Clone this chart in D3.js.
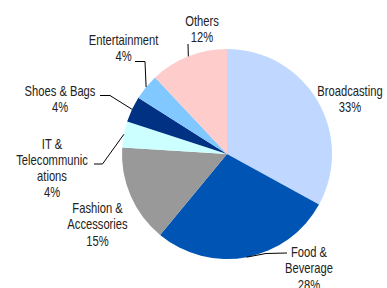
<!DOCTYPE html>
<html><head><meta charset="utf-8">
<script src="https://cdn.jsdelivr.net/npm/d3@7"></script>
<style>html,body{margin:0;padding:0;background:#fff;}svg{display:block;}</style>
</head><body>
<svg id="chart" width="387" height="288"></svg>
<script>
const categories = ["Broadcasting", "Food & Beverage", "Fashion & Accessories", "IT & Telecommunications", "Shoes & Bags", "Entertainment", "Others"];
const values = [33, 28, 15, 4, 4, 4, 12];
const labelLines = [
  ["Broadcasting", "33%"],
  ["Food &", "Beverage", "28%"],
  ["Fashion &", "Accessories", "15%"],
  ["IT &", "Telecommunic", "ations", "4%"],
  ["Shoes & Bags", "4%"],
  ["Entertainment", "4%"],
  ["Others", "12%"]
];
const colors = ["#C0D8FF", "#0055B4", "#999999", "#CCFFFF", "#003183", "#80C8FF", "#FFCCCC"];

// layout (positions only)
const cx = 227, cy = 154, R = 105, lineH = 16.3, squeeze = 0.8;
const labelPos = [
  {x: 350, y: 96},
  {x: 309, y: 257},
  {x: 97.5, y: 213},
  {x: 52, y: 148.5},
  {x: 60, y: 96},
  {x: 123.5, y: 45},
  {x: 202, y: 26}
];
// leader bends (null = no leader)
const leaderBends = [
  null,
  [[266, 253.5], [287, 253]],
  null,
  [[102.5, 164], [94, 164]],
  [[110, 95.5], [100, 95.5]],
  [[145, 61.5], [135, 61.5]],
  [[188, 44]]
];

const svg = d3.select("#chart");
const g = svg.append("g").attr("transform", `translate(${cx},${cy})`);
const pie = d3.pie().sort(null).value(d => d)(values);
const arc = d3.arc().innerRadius(0).outerRadius(R);

g.selectAll("path.slice").data(pie).enter().append("path")
  .attr("class", "slice")
  .attr("d", arc)
  .attr("fill", (d, i) => colors[i]);

pie.forEach((d, i) => {
  if (!leaderBends[i]) return;
  const mid = (d.startAngle + d.endAngle) / 2;
  const p0 = [cx + R * Math.sin(mid), cy - R * Math.cos(mid)];
  const pts = [p0].concat(leaderBends[i]);
  svg.append("path")
    .attr("d", d3.line()(pts))
    .attr("fill", "none")
    .attr("stroke", "#000")
    .attr("stroke-width", 1);
});

const font = "'Liberation Sans', Arial, sans-serif";
labelLines.forEach((lines, i) => {
  const t = svg.append("text")
    .attr("transform", `translate(${labelPos[i].x},${labelPos[i].y}) scale(${squeeze},1)`)
    .attr("text-anchor", "middle")
    .attr("font-family", font)
    .attr("font-size", 14)
    .attr("fill", "#222");
  lines.forEach((s, j) => {
    t.append("tspan").attr("x", 0).attr("y", j * lineH).text(s);
  });
});
</script>
</body></html>
